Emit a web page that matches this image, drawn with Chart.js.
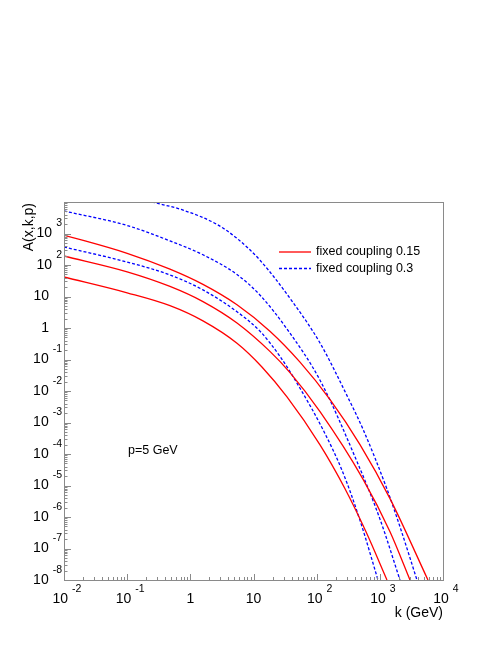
<!DOCTYPE html>
<html>
<head>
<meta charset="utf-8">
<script src="https://cdn.jsdelivr.net/npm/chart.js@4/dist/chart.umd.min.js"></script>
<style>
  body { margin: 0; background: #fff; }
  canvas { display: block; }
</style>
</head>
<body>
<canvas id="chart" width="498" height="645"></canvas>
<script>
// k (GeV) and A(x,k,p), fixed coupling 0.15 (solid red)
const c15aK = [0.01, 0.1, 0.476, 1.585, 5.48, 18.2, 54.5, 163, 485, 1449, 5781];
const c15aA = [895, 235, 73.6, 24.2, 5.46, 0.791, 0.0826, 5.33e-3, 1.99e-4, 3.84e-6, 1e-8];
const c15bK = [0.01, 0.1, 0.476, 1.585, 5.48, 18.2, 37.8, 113, 541, 1449, 3000];
const c15bA = [193, 60.8, 20.9, 6.89, 1.44, 0.181, 0.0384, 2.22e-3, 1.6e-5, 3.39e-7, 1e-8];
const c15cK = [0.01, 0.1, 0.476, 1.585, 5.48, 13.6, 33.9, 113, 281, 604, 1297];
const c15cA = [41.6, 13.1, 5.11, 1.68, 0.327, 0.0578, 6.46e-3, 1.95e-4, 7.91e-6, 3.39e-7, 1e-8];

// fixed coupling 0.3 (dashed blue)
const c30aK = [0.01, 0.1, 0.476, 1.585, 5.48, 12.7, 26.2, 54.5, 126, 261, 485, 935];
const c30aA = [372, 124, 48.2, 16.2, 3.29, 0.785, 0.126, 0.0122, 5.91e-4, 2.55e-5, 7.85e-7, 1e-8];
const c30bK = [0.01, 0.1, 0.476, 1.585, 5.48, 12.7, 33.9, 113, 435, 1005, 2084];
const c30bA = [5180, 1795, 582, 211, 49.9, 11.0, 0.929, 0.022, 5.74e-5, 8.57e-7, 1e-8];
const c30cK = [0.247, 0.766, 2.64, 5.48, 12.7, 42.2, 113, 313, 541, 1297, 2084, 3873];
const c30cA = [1e4, 5530, 1945, 699, 141, 6.46, 0.334, 6.17e-3, 6.16e-4, 7.69e-6, 4.89e-7, 1e-8];

// decade exponents that get a label
const xTickExps = [-2, -1, 0, 1, 2, 3, 4];
const yTickExps = [-8, -7, -6, -5, -4, -3, -2, -1, 0, 1, 2, 3];

const legendLabels = ['fixed coupling 0.15', 'fixed coupling 0.3'];
const noteText = 'p=5 GeV';

const FONT = '"Liberation Sans", Arial, Helvetica, sans-serif';

function pts(ks, as) {
    return ks.map((k, i) => ({x: k, y: as[i]}));
}

function curve(ks, as, color, dashed) {
    return {
        data: pts(ks, as),
        borderColor: color,
        borderWidth: 1.3,
        borderDash: dashed ? [3, 2] : [],
        pointRadius: 0,
        cubicInterpolationMode: 'monotone',
        fill: false
    };
}

function expLabel(ctx, e, xr, yc, mode) {
    // draws "10^e" (or 1 / 10) ; mode 'y' = right aligned at xr, 'x' = centred at xr
    ctx.fillStyle = '#000';
    ctx.textBaseline = 'middle';
    if (e === 0 || e === 1) {
        const t = e === 0 ? '1' : '10';
        ctx.font = '14px ' + FONT;
        if (mode === 'y') { ctx.textAlign = 'right'; ctx.fillText(t, xr - 13, yc); }
        else { ctx.textAlign = 'center'; ctx.fillText(t, xr, yc); }
        return;
    }
    const sup = e < 0 ? '-' + (-e) : String(e);
    ctx.font = '10.5px ' + FONT;
    const ws = ctx.measureText(sup).width;
    ctx.font = '14px ' + FONT;
    const wb = ctx.measureText('10').width;
    const gap = 4;
    let x0;
    if (mode === 'y') x0 = xr - ws - gap - wb;
    else x0 = xr + 3 - (wb + gap + ws) / 2;
    ctx.textAlign = 'left';
    ctx.font = '14px ' + FONT;
    ctx.fillText('10', x0, yc);
    ctx.font = '10.5px ' + FONT;
    ctx.fillText(sup, x0 + wb + gap, yc - 10);
}

const rootStyle = {
    id: 'rootStyle',
    afterDatasetsDraw(chart) {
        const {ctx, chartArea: a, scales: {x, y}} = chart;
        ctx.save();
        // frame
        ctx.strokeStyle = '#8a8a8a';
        ctx.lineWidth = 1;
        ctx.setLineDash([]);
        ctx.strokeRect(a.left + 0.5, a.top + 0.5, a.right - a.left, a.bottom - a.top);
        // ticks
        ctx.beginPath();
        for (let e = -8; e <= 4; e++) {
            for (let m = 1; m <= 9; m++) {
                const v = m * Math.pow(10, e);
                if (v < y.min * 0.999 || v > y.max * 1.001) continue;
                const py = Math.round(y.getPixelForValue(v)) + 0.5;
                ctx.moveTo(a.left, py);
                ctx.lineTo(a.left + (m === 1 ? 7 : 3.5), py);
            }
        }
        for (let e = -2; e <= 4; e++) {
            for (let m = 1; m <= 9; m++) {
                const v = m * Math.pow(10, e);
                if (v < x.min * 0.999 || v > x.max * 1.001) continue;
                const px = Math.round(x.getPixelForValue(v)) + 0.5;
                ctx.moveTo(px, a.bottom);
                ctx.lineTo(px, a.bottom - (m === 1 ? 6 : 3));
            }
        }
        ctx.stroke();
        // tick labels
        yTickExps.forEach(e => expLabel(ctx, e, a.left - 2, y.getPixelForValue(Math.pow(10, e)), 'y'));
        xTickExps.forEach(e => expLabel(ctx, e, x.getPixelForValue(Math.pow(10, e)), a.bottom + 19, 'x'));
        // axis titles
        ctx.fillStyle = '#000';
        ctx.font = '14px ' + FONT;
        ctx.textAlign = 'right';
        ctx.textBaseline = 'middle';
        ctx.fillText('k (GeV)', a.right, a.bottom + 33);
        ctx.save();
        ctx.translate(29, a.top + 1);
        ctx.rotate(-Math.PI / 2);
        ctx.textAlign = 'right';
        ctx.fillText('A(x,k,p)', 0, 0);
        ctx.restore();
        // legend
        const lx = a.left + 215, ly = a.top + 50;
        ctx.font = '12.5px ' + FONT;
        ctx.textAlign = 'left';
        ctx.lineWidth = 1.3;
        [['red', []], ['blue', [3, 2]]].forEach((s, i) => {
            const yy = ly + i * 16.5;
            ctx.strokeStyle = s[0];
            ctx.setLineDash(s[1]);
            ctx.beginPath();
            ctx.moveTo(lx, yy);
            ctx.lineTo(lx + 32, yy);
            ctx.stroke();
            ctx.fillText(legendLabels[i], lx + 37, yy);
        });
        // note
        ctx.fillText(noteText, a.left + 64, a.top + 249);
        ctx.restore();
    }
};

new Chart(document.getElementById('chart'), {
    type: 'line',
    data: {
        datasets: [
            curve(c15aK, c15aA, 'red', false),
            curve(c15bK, c15bA, 'red', false),
            curve(c15cK, c15cA, 'red', false),
            curve(c30aK, c30aA, 'blue', true),
            curve(c30bK, c30bA, 'blue', true),
            curve(c30cK, c30cA, 'blue', true)
        ]
    },
    options: {
        responsive: false,
        animation: false,
        layout: {padding: {left: 64, top: 202, right: 55, bottom: 65}},
        scales: {
            x: {type: 'logarithmic', min: 1e-2, max: 1e4, display: false},
            y: {type: 'logarithmic', min: 1e-8, max: 1e4, display: false}
        },
        plugins: {legend: {display: false}, tooltip: {enabled: false}}
    },
    plugins: [rootStyle]
});
</script>
</body>
</html>
